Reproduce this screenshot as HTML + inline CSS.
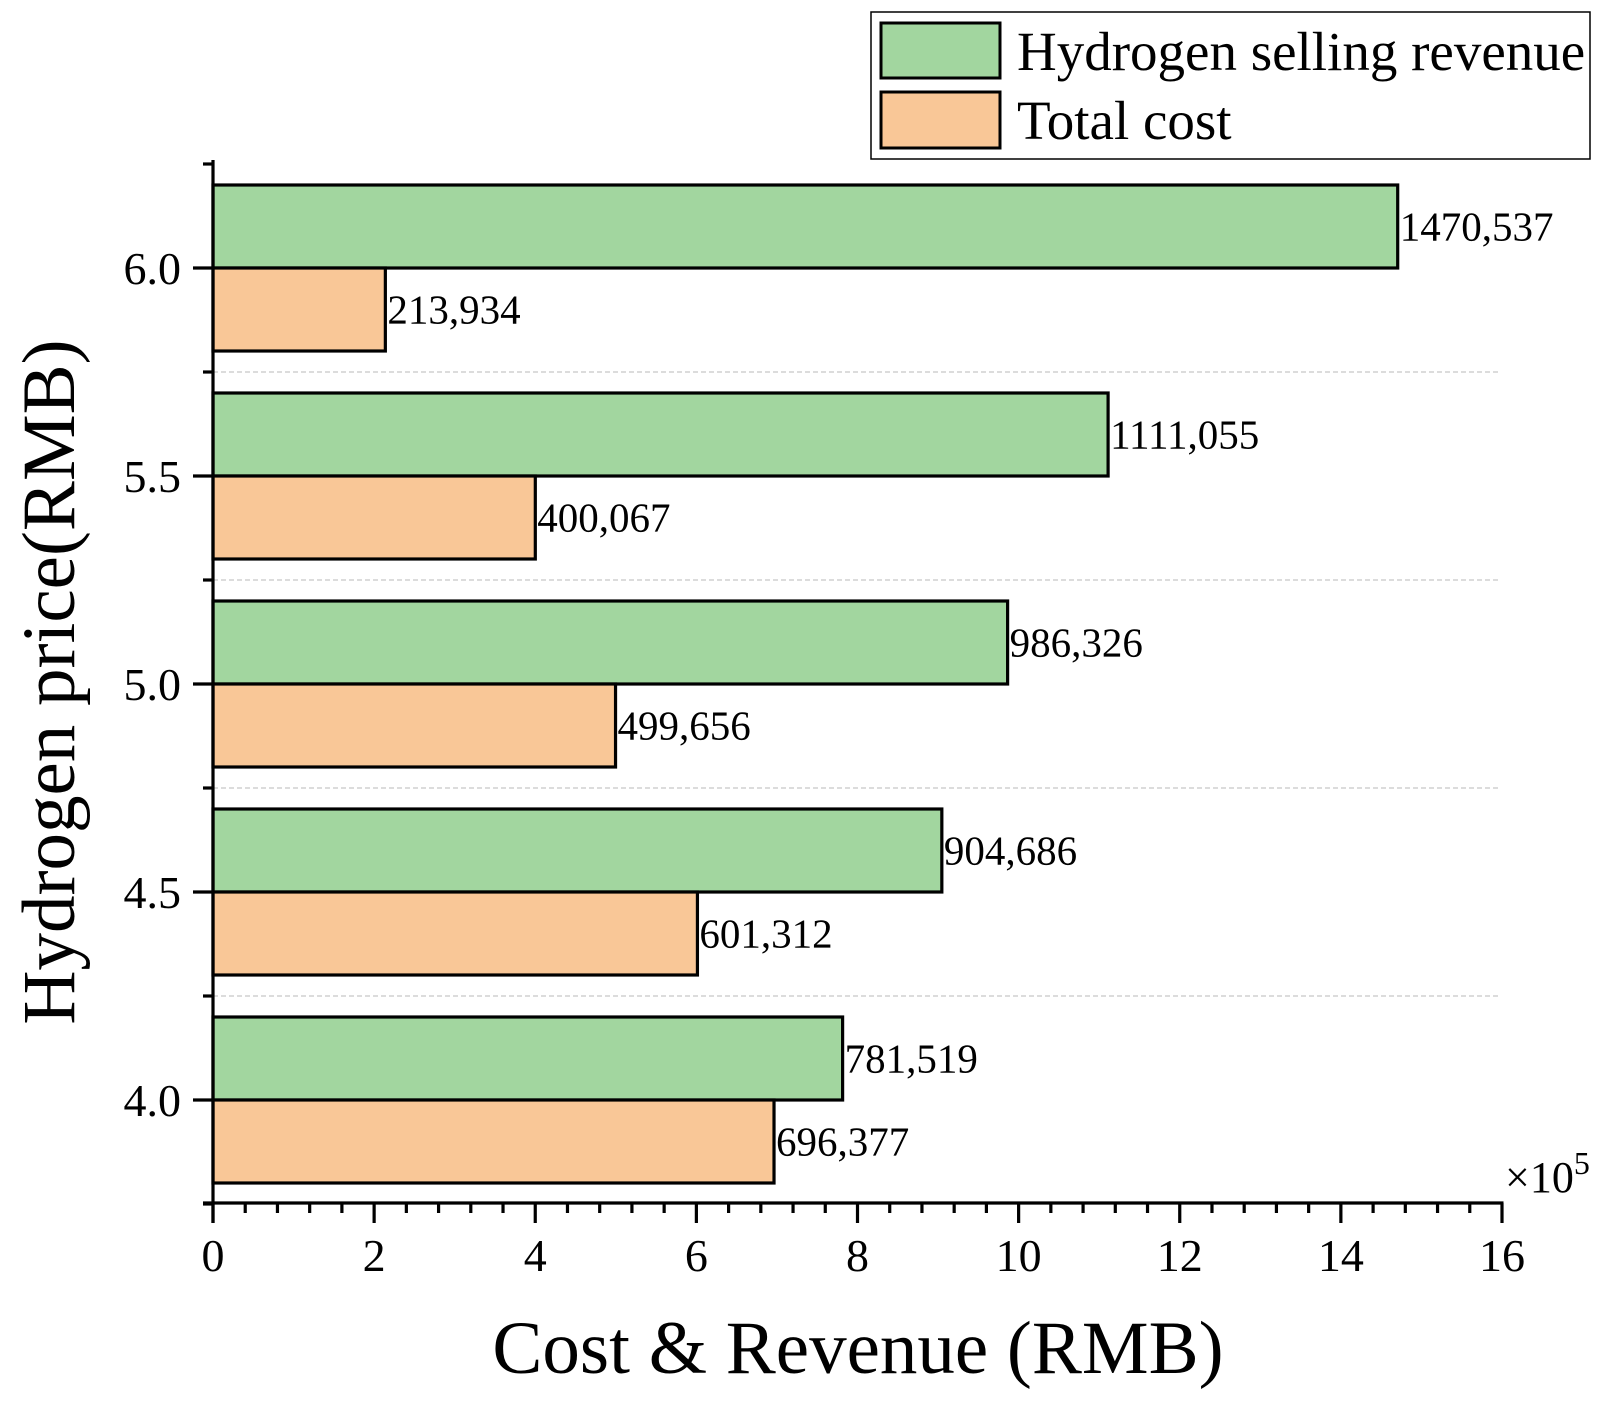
<!DOCTYPE html>
<html><head><meta charset="utf-8"><style>
html,body{margin:0;padding:0;background:#fff;}
svg{display:block;font-family:"Liberation Serif",serif;}
</style></head><body>
<svg id="chart" width="1609" height="1403" viewBox="0 0 1609 1403">
<g id="grid"></g><g id="bars"></g><g id="axes"></g><g id="labels"></g>
<g>
<rect x="871" y="12" width="719" height="147" fill="#fff" stroke="#000" stroke-width="1.5"/>
<rect x="881" y="23" width="119" height="55" fill="#a2d69f" stroke="#000" stroke-width="3"/>
<text x="1017" y="70" font-size="55">Hydrogen selling revenue</text>
<rect x="881" y="92" width="119" height="56" fill="#f9c797" stroke="#000" stroke-width="3"/>
<text x="1017" y="139" font-size="55">Total cost</text>
</g>
<text x="858" y="1373" font-size="75" text-anchor="middle">Cost &amp; Revenue (RMB)</text>
<text transform="translate(74,682) rotate(-90)" font-size="75" text-anchor="middle">Hydrogen price(RMB)</text>
<text x="1505" y="1192" font-size="44">×10<tspan dy="-18" font-size="32">5</tspan></text>
</svg>
<script>
const categories = ["4.0","4.5","5.0","5.5","6.0"];
const revenue = [781519, 904686, 986326, 1111055, 1470537];
const cost = [696377, 601312, 499656, 400067, 213934];
const revenueLabels = ["781,519","904,686","986,326","1111,055","1470,537"];
const costLabels = ["696,377","601,312","499,656","400,067","213,934"];
const xTicks = [0,2,4,6,8,10,12,14,16];

const NS="http://www.w3.org/2000/svg";
const X0=213, X1=1502, Yaxis=1203;
const xs=v=>X0+(v/1e5)/16*(X1-X0);
const yc=i=>1100-i*208;
const BH=83;
function mk(tag,attrs,parent,text){const e=document.createElementNS(NS,tag);for(const k in attrs)e.setAttribute(k,attrs[k]);if(text!==undefined)e.textContent=text;document.getElementById(parent).appendChild(e);return e;}

for(let i=0;i<categories.length-1;i++){
  const y=(yc(i)+yc(i+1))/2;
  const g=mk('line',{x1:X0,x2:1500,y1:y,y2:y,stroke:'#c8c8c8','stroke-width':1.2,'stroke-dasharray':'5,3'},'grid');
  
  
}
categories.forEach((c,i)=>{
  const y=yc(i);
  const r1=mk('rect',{x:X0,y:y-BH,width:xs(revenue[i])-X0,height:BH,fill:'#a2d69f',stroke:'#000','stroke-width':3.2},'bars');
  
  
  const r2=mk('rect',{x:X0,y:y,width:xs(cost[i])-X0,height:BH,fill:'#f9c797',stroke:'#000','stroke-width':3.2},'bars');
  
  
  const t1=mk('text',{x:xs(revenue[i])+2,y:y-BH/2+14,'font-size':41},'labels',revenueLabels[i]);
  
  
  const t2=mk('text',{x:xs(cost[i])+2,y:y+BH/2+14,'font-size':41},'labels',costLabels[i]);
  
  
  const tk=mk('line',{x1:193,x2:X0,y1:y,y2:y,stroke:'#000','stroke-width':3.2},'axes');
  
  
  const tl=mk('text',{x:181,y:y+16,'font-size':46,'text-anchor':'end'},'labels',c);
  
  
});
[yc(0)+104].concat(categories.map((c,i)=>yc(i)-104)).forEach(y=>{
  const m=mk('line',{x1:203,x2:X0,y1:y,y2:y,stroke:'#000','stroke-width':3.2},'axes');
  
  
});
const ya=mk('line',{x1:X0,x2:X0,y1:160,y2:Yaxis+20,stroke:'#000','stroke-width':3.2},'axes');


const xa=mk('line',{x1:203,x2:X1+1.5,y1:Yaxis,y2:Yaxis,stroke:'#000','stroke-width':3.2},'axes');


xTicks.forEach((t,j)=>{
  const x=xs(t*1e5);
  const l=mk('line',{x1:x,x2:x,y1:Yaxis,y2:Yaxis+20,stroke:'#000','stroke-width':3.2},'axes');
  
  
  const tl=mk('text',{x:x,y:1271,'font-size':46,'text-anchor':'middle'},'labels',String(t));
  
  
  if(j<xTicks.length-1){
    for(let k=1;k<5;k++){
      const mx=xs((t+k*0.4)*1e5);
      const m=mk('line',{x1:mx,x2:mx,y1:Yaxis,y2:Yaxis+10,stroke:'#000','stroke-width':3.2},'axes');
      
      
    }
  }
});
</script>
</body></html>
